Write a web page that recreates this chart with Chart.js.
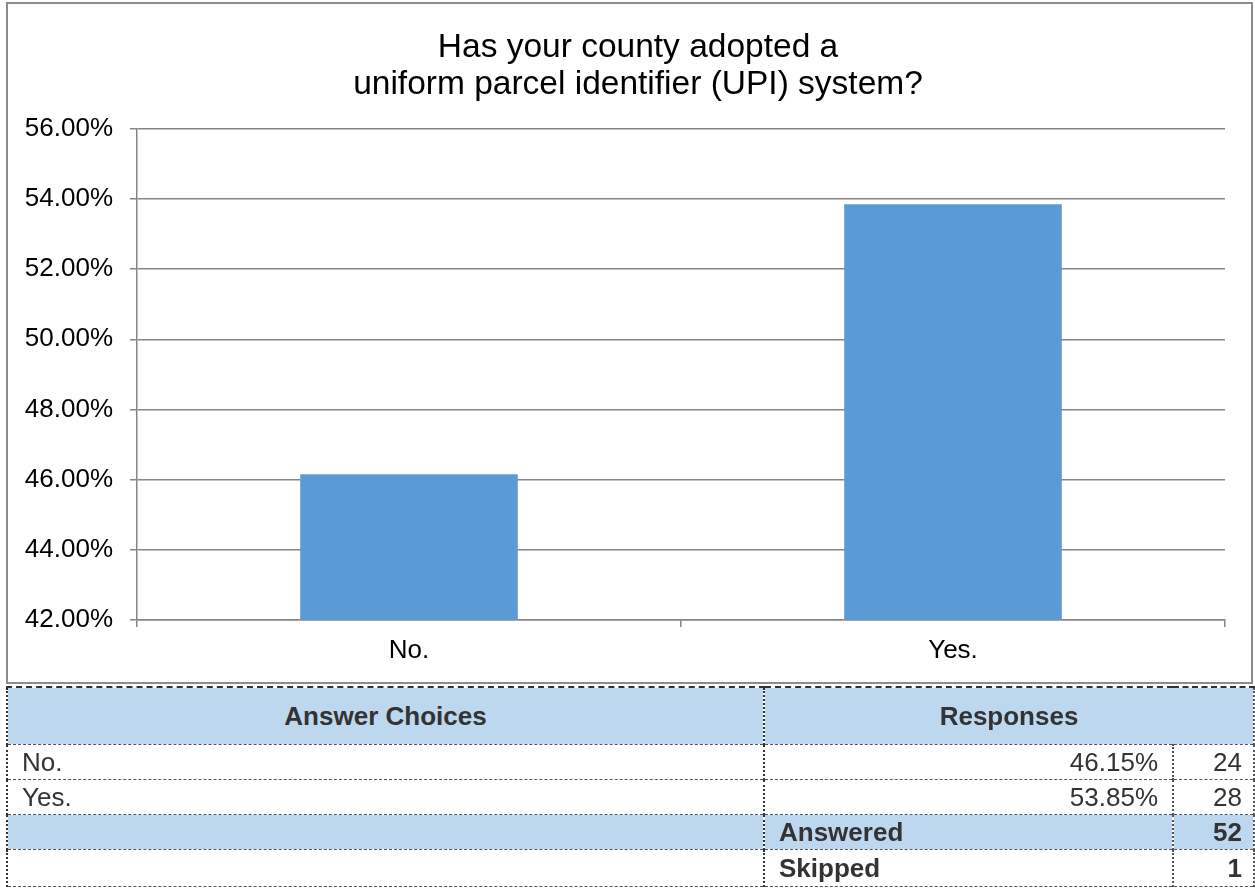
<!DOCTYPE html>
<html>
<head>
<meta charset="utf-8">
<script src="https://cdn.jsdelivr.net/npm/chart.js@4"></script>
<style>
  body { margin: 0; background: #fff; font-family: "Liberation Sans", Arial, sans-serif; overflow: hidden; }
  #chartBox { position: absolute; left: 0; top: 0; width: 1300px; height: 684px; }
  #frame { position: absolute; left: 6px; top: 2px; width: 1247px; height: 682px; box-sizing: border-box; border: 2px solid #8c8c8c; pointer-events: none; }
  #results { position: absolute; left: 6px; top: 686px; width: 1247px; border-collapse: collapse; table-layout: fixed; color: #333; font-size: 26px; }
  #results td { border: 1px dashed #555; padding: 0 14px; height: 34px; line-height: 34px; white-space: nowrap; overflow: hidden; }
  #results tr.head td { height: 56px; font-weight: bold; text-align: center; border-top: 2px dashed #333; }
  #results tr.end td { height: 36px; }
  #results .blue td { background: #bdd7ee; }
  #results td.c1 { border-left: 2px dotted #333; }
  #results td.c2 { border-left: 2px dotted #333; }
  #results td.c3 { border-left: 2px dotted #555; text-align: right; padding-right: 11px; }
  #results td.last { border-right: 2px dotted #555; }
  #results .r { text-align: right; }
  #results .b { font-weight: bold; }
</style>
</head>
<body>
<div id="chartBox"><canvas id="myChart" width="1300" height="684"></canvas></div>
<div id="frame"></div>
<table id="results">
  <colgroup><col style="width:757px"><col style="width:409px"><col style="width:81px"></colgroup>
  <tbody id="rows"></tbody>
</table>
<script>
const categories = ["No.", "Yes."];
const percentages = [46.15, 53.85];
const counts = [24, 28];
const answered = 52;
const skipped = 1;
const titleLines = ["Has your county adopted a", "uniform parcel identifier (UPI) system?"];

const ctx = document.getElementById("myChart");
const font = "'Liberation Sans', Arial, sans-serif";

new Chart(ctx, {
  type: "bar",
  data: {
    labels: categories,
    datasets: [
      {
        label: "Responses",
        data: percentages,
        backgroundColor: "#5b9bd5",
        borderWidth: 0,
        barPercentage: 0.4,
        categoryPercentage: 1,
      },
    ],
  },
  options: {
    responsive: false,
    animation: false,
    // canvas is wider than the page so the title centres where the original does
    layout: { padding: { left: 0, right: 24, top: 0, bottom: 0 } },
    plugins: {
      legend: { display: false },
      tooltip: { enabled: false },
      title: {
        display: true,
        text: titleLines,
        color: "#000",
        font: { family: font, size: 33.5, weight: "normal", lineHeight: 1.1 },
        padding: { top: 29, bottom: 26 },
      },
    },
    scales: {
      x: {
        grid: { offset: true, drawOnChartArea: false, color: "#868686", tickLength: 7, lineWidth: 1.5 },
        border: { color: "#868686", width: 1.5 },
        ticks: { color: "#000", font: { family: font, size: 26 }, padding: 8 },
        afterFit: (scale) => { scale.height = 64; },
      },
      y: {
        min: 42,
        max: 56,
        grid: { color: "#868686", tickLength: 7, lineWidth: 1.5 },
        border: { color: "#868686", width: 1.5 },
        ticks: {
          stepSize: 2,
          color: "#000",
          font: { family: font, size: 26 },
          padding: 17,
          callback: (v) => v.toFixed(2) + "%",
        },
        afterFit: (scale) => { scale.width = 137; },
      },
      // empty spacer on the right
      y2: {
        position: "right",
        grid: { display: false },
        border: { display: false },
        ticks: { display: false },
        afterFit: (scale) => { scale.width = 51; },
      },
    },
  },
});

// results table
const rows = document.getElementById("rows");
let html = '<tr class="head blue"><td class="c1">Answer Choices</td><td class="c2 last" colspan="2">Responses</td></tr>';
categories.forEach((c, i) => {
  html += '<tr><td class="c1">' + c + '</td><td class="c2 r">' + percentages[i].toFixed(2) + '%</td><td class="c3 last">' + counts[i] + '</td></tr>';
});
html += '<tr class="blue"><td class="c1"></td><td class="c2 b">Answered</td><td class="c3 b last">' + answered + '</td></tr>';
html += '<tr class="end"><td class="c1"></td><td class="c2 b">Skipped</td><td class="c3 b last">' + skipped + '</td></tr>';
rows.innerHTML = html;
</script>
</body>
</html>
